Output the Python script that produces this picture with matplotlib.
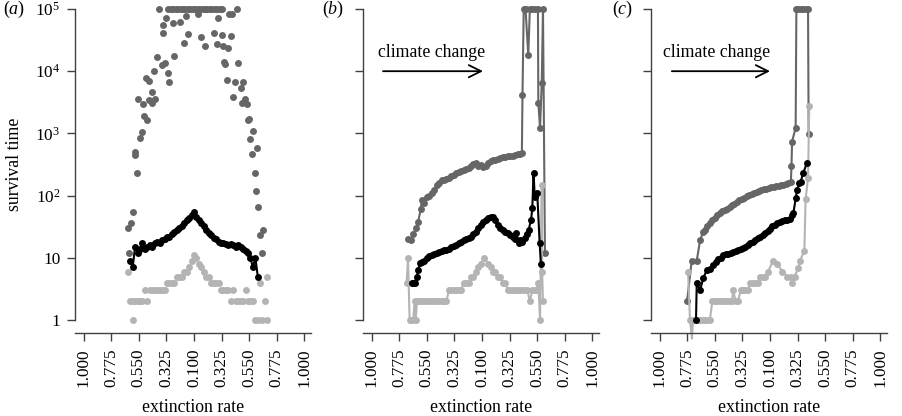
import numpy as np
import matplotlib.pyplot as plt
from matplotlib.ticker import NullLocator

plt.rcParams['font.family'] = 'Liberation Serif'
plt.rcParams['mathtext.fontset'] = 'custom'
plt.rcParams['mathtext.rm'] = 'Liberation Serif'
plt.rcParams['mathtext.it'] = 'Liberation Serif:italic'

# x positions: 0 is the lowest extinction rate (0.100), left/right go back up to 1.000
tick_pos = [-0.9, -0.675, -0.45, -0.225, 0.0, 0.225, 0.45, 0.675, 0.9]
tick_labels = ['1.000', '0.775', '0.550', '0.325', '0.100', '0.325', '0.550', '0.775', '1.000']
y_ticks = [1, 10, 100, 1000, 10000, 100000]
y_labels = ['1', '10', '$10^2$', '$10^3$', '$10^4$', '$10^5$']
cap = 100000

# panel (a)
a_x = np.linspace(-0.52, 0.52, 53)
a_black = [9, 7, 15, 12, 14, 17, 14, 15, 16, 15, 17, 18, 17, 19, 20, 22, 22, 24, 26, 28,
           30, 33, 36, 40, 44, 48, 55, 45, 40, 36, 32, 28, 25, 23, 21, 20, 18, 17, 17, 16.5,
           16, 16.5, 16, 15, 16, 15, 14, 13, 12, 10, 7, 10, 5]
a_light = [2, 2, 2, 2, 2, 2, 3, 2, 3, 3, 3, 3, 3, 3, 3, 4, 4, 4, 4, 5,
           5, 5, 6, 6, 7, 9, 11, 10, 8, 7, 6, 5, 5, 4, 4, 4, 4, 3, 3, 3,
           3, 2, 3, 2, 2, 2, 2, 3, 2, 2, 2, 1, 1]
a_light_extra_x = [-0.540, -0.495, 0.538, 0.552, 0.579, 0.592, 0.592]
a_light_extra = [6, 1, 4, 1, 2, 1, 5]
a_dark_x = [-0.540, -0.530, -0.513, -0.495, -0.481, -0.477, -0.467, -0.456, -0.440, -0.426,
            -0.418, -0.407, -0.394, -0.385, -0.367, -0.363, -0.345, -0.342, -0.326, -0.318,
            -0.304, -0.285, -0.263, -0.255, -0.253, -0.236, -0.228, -0.214, -0.204, -0.171,
            -0.163, -0.114, -0.081, -0.068, -0.049, 0.030, 0.055, 0.090, 0.163, 0.187,
            0.196, 0.226, 0.234, 0.244, 0.249, 0.267, 0.277, 0.285, 0.302, 0.310,
            0.318, 0.334, 0.348, 0.356, 0.381, 0.391, 0.399, 0.416, 0.430, 0.440,
            0.448, 0.456, 0.475, 0.481, 0.497, 0.505, 0.511, 0.524, 0.538, 0.552, 0.562]
a_dark = [30, 12, 36, 54, 450, 500, 230, 3550, 850, 1070,
          2950, 1900, 7700, 1650, 6900, 3450, 3100, 4700, 10000, 3550,
          17000, 100000, 12600, 40700, 55000, 13500, 70800, 9300, 6800, 60000,
          17400, 61700, 28000, 77600, 40000, 83000, 35500, 25000, 40700, 27000,
          70800, 38000, 25000, 14100, 13200, 7200, 23400, 83000, 37000, 83000,
          3900, 6800, 100000, 13500, 5400, 3100, 6800, 3550, 2950, 1650,
          1700, 810, 470, 1100, 235, 120, 575, 66, 23, 12, 28]
a_dark_cap_x = [-0.21, -0.19, -0.17, -0.15, -0.13, -0.11, -0.09, -0.07, -0.05, -0.03, -0.01,
                0.01, 0.03, 0.05, 0.07, 0.09, 0.11, 0.13, 0.15, 0.17, 0.19, 0.21, 0.23]

# panel (b)
b_dark_x = [-0.603, -0.58, -0.56, -0.54, -0.52, -0.50, -0.49, -0.47, -0.45, -0.43,
            -0.41, -0.39, -0.37, -0.35, -0.33, -0.31, -0.29, -0.27, -0.25, -0.23,
            -0.21, -0.19, -0.17, -0.15, -0.13, -0.11, -0.09, -0.07, -0.05, -0.03,
            -0.01, 0.01, 0.03, 0.05, 0.07, 0.09, 0.11, 0.13, 0.15, 0.17,
            0.19, 0.21, 0.23, 0.25, 0.27, 0.29, 0.31, 0.325, 0.33, 0.34,
            0.355, 0.377, 0.39, 0.41, 0.43, 0.456, 0.459, 0.473, 0.487, 0.497, 0.513]
b_dark = [20, 19, 24, 30, 38, 60, 85, 75, 95, 100,
          110, 125, 148, 160, 175, 178, 185, 195, 210, 215,
          228, 240, 245, 255, 270, 280, 300, 320, 330, 300,
          310, 290, 300, 330, 360, 370, 380, 390, 400, 410,
          420, 430, 440, 440, 450, 460, 470, 490, 4170, 100000,
          100000, 18000, 100000, 100000, 100000, 100000, 3100, 1230, 6500, 100000, 12]
b_black_x = [-0.573, -0.562, -0.546, -0.532, -0.52, -0.505, -0.489, -0.47, -0.45, -0.43,
             -0.41, -0.39, -0.37, -0.35, -0.33, -0.31, -0.29, -0.27, -0.25, -0.23,
             -0.21, -0.19, -0.17, -0.15, -0.13, -0.11, -0.09, -0.07, -0.05, -0.03,
             -0.01, 0.01, 0.03, 0.05, 0.07, 0.09, 0.11, 0.13, 0.15, 0.17,
             0.19, 0.21, 0.23, 0.25, 0.27, 0.28, 0.30, 0.31, 0.33, 0.35,
             0.37, 0.38, 0.40, 0.41, 0.42, 0.43, 0.45, 0.47, 0.48]
b_black = [3.9, 4, 4, 5, 6.3, 8.2, 8.5, 9, 10, 10.5,
           11, 11.5, 12, 12.5, 13, 13.4, 13.5, 14, 15, 15.5,
           16, 17, 18, 19, 20, 21, 22, 24, 26, 30,
           34, 38, 41, 44, 46, 45, 40, 34, 30, 28,
           26, 25, 23, 22, 20, 25, 17, 19, 18, 21,
           24, 28, 41, 63, 234, 95, 112, 17, 8]
b_light_x = [-0.614, -0.603, -0.59, -0.575, -0.56, -0.55, -0.54, -0.53, -0.51, -0.49,
             -0.47, -0.45, -0.43, -0.41, -0.39, -0.37, -0.35, -0.33, -0.31, -0.29,
             -0.27, -0.25, -0.23, -0.21, -0.19, -0.17, -0.15, -0.13, -0.11, -0.09,
             -0.07, -0.05, -0.03, -0.01, 0.02, 0.05, 0.07, 0.09, 0.11, 0.13,
             0.15, 0.17, 0.19, 0.21, 0.23, 0.25, 0.27, 0.29, 0.31, 0.33,
             0.35, 0.37, 0.39, 0.41, 0.43, 0.44, 0.459, 0.473, 0.487, 0.49, 0.497]
b_light = [4, 10, 1, 1, 1, 2, 1, 2, 2, 2,
           2, 2, 2, 2, 2, 2, 2, 2, 2, 2,
           3, 3, 3, 3, 3, 3, 4, 4, 4, 5,
           5, 6, 7, 8, 10, 8, 7, 6, 6, 5,
           5, 4, 4, 3, 3, 3, 3, 3, 3, 3,
           3, 3, 2, 3, 3, 3, 4, 1, 148, 6, 2]

# panel (c)
c_dark_x = [-0.676, -0.638, -0.597, -0.57, -0.546, -0.53, -0.51, -0.49, -0.47, -0.45,
            -0.43, -0.41, -0.39, -0.37, -0.35, -0.33, -0.31, -0.29, -0.27, -0.25,
            -0.23, -0.21, -0.19, -0.17, -0.15, -0.13, -0.11, -0.09, -0.07, -0.05,
            -0.03, -0.01, 0.01, 0.03, 0.05, 0.07, 0.09, 0.11, 0.13, 0.15,
            0.17, 0.175, 0.18, 0.209, 0.215, 0.23, 0.25, 0.27, 0.29, 0.31, 0.315]
c_dark = [2, 9, 9, 19, 26, 28, 32, 36, 40, 44,
          48, 52, 56, 58, 62, 66, 70, 74, 78, 84,
          88, 92, 98, 102, 108, 110, 115, 118, 122, 126,
          128, 132, 135, 138, 142, 145, 148, 150, 155, 160,
          165, 300, 740, 1230, 100000, 100000, 100000, 100000, 100000, 100000, 980]
c_black_x = [-0.603, -0.597, -0.57, -0.544, -0.516, -0.489, -0.462, -0.44, -0.42, -0.40,
             -0.38, -0.36, -0.34, -0.32, -0.30, -0.28, -0.26, -0.24, -0.22, -0.20,
             -0.18, -0.16, -0.14, -0.12, -0.10, -0.08, -0.06, -0.04, -0.02, 0.00,
             0.02, 0.04, 0.06, 0.08, 0.10, 0.12, 0.14, 0.16, 0.18, 0.19,
             0.21, 0.22, 0.24, 0.25, 0.27, 0.30]
c_black = [1, 4, 3, 4.7, 6.3, 6.5, 7.6, 8.5, 9.5, 10,
           11, 11.5, 11.5, 12, 12.6, 13, 13.5, 14, 14.2, 15,
           16, 17.5, 18, 19, 20.5, 22, 23, 25, 27, 29,
           32, 34, 36, 38, 39, 40, 41, 42, 48, 52,
           91, 123, 158, 167, 229, 331]
c_light_x = [-0.668, -0.652, -0.636, -0.628, -0.61, -0.59, -0.57, -0.55, -0.53, -0.51,
             -0.49, -0.47, -0.45, -0.43, -0.41, -0.39, -0.37, -0.35, -0.33, -0.31,
             -0.30, -0.28, -0.26, -0.24, -0.22, -0.20, -0.18, -0.16, -0.14, -0.12,
             -0.10, -0.08, -0.06, -0.04, -0.015, 0.025, 0.06, 0.10, 0.14, 0.17,
             0.18, 0.20, 0.23, 0.245, 0.28, 0.29, 0.31, 0.32]
c_light = [6, 1, 0.5, 1, 1, 1, 1, 1, 1, 1,
           1, 2, 2, 2, 2, 2, 2, 2, 2, 2,
           3, 2, 2, 3, 3, 3, 3, 4, 4, 4,
           4, 5, 5, 5, 6, 9, 8, 6, 5, 5,
           4, 5, 6.8, 9, 13, 87, 190, 2750]

DARK = '#666666'
LIGHT = '#b4b4b4'
AXIS = '#404040'
W, H = 902, 416
MS = 5
LW = 1.5

fig = plt.figure(figsize=(W / 100, H / 100), dpi=100)
axes = []
for left in [75, 363, 651]:
    ax = fig.add_axes([left / W, (H - 333) / H, 236 / W, 328 / H])
    ax.set_yscale('log')
    ax.set_xlim(-119 / 122.7, 117 / 122.7)
    ax.set_ylim(10 ** (-13 / 62.2), 10 ** (315 / 62.2))
    ax.spines[['top', 'right']].set_visible(False)
    for s in ['left', 'bottom']:
        ax.spines[s].set_color(AXIS)
        ax.spines[s].set_linewidth(1.0)
    ax.spines['left'].set_bounds(1, 1e5)
    ax.set_xticks(tick_pos)
    ax.set_xticklabels(tick_labels, rotation=90)
    ax.set_yticks(y_ticks)
    ax.yaxis.set_minor_locator(NullLocator())
    ax.tick_params(axis='both', direction='out', length=6, width=1.0, color=AXIS,
                   labelsize=12.4)
    ax.tick_params(axis='x', pad=5)
    ax.tick_params(axis='y', pad=4.5)
    ax.set_xlabel('extinction rate', fontsize=12.8, labelpad=8.5)
    axes.append(ax)

ax_a, ax_b, ax_c = axes
ax_a.set_yticklabels(y_labels)
ax_b.set_yticklabels([])
ax_c.set_yticklabels([])

# (a) scatter of survival times plus the mean line
ax_a.plot(a_dark_x, a_dark, 'o', color=DARK, ms=MS, mew=0, clip_on=False)
ax_a.plot(a_dark_cap_x, [cap] * len(a_dark_cap_x), 'o', color=DARK, ms=MS, mew=0, clip_on=False)
ax_a.plot(a_x, a_light, 'o', color=LIGHT, ms=MS, mew=0, clip_on=False)
ax_a.plot(a_light_extra_x, a_light_extra, 'o', color=LIGHT, ms=MS, mew=0, clip_on=False)
ax_a.plot(a_x, a_black, '-o', color='black', ms=MS, mew=0, lw=LW, clip_on=False)

# (b) and (c) climate change runs
for ax, dx, dy, lx, ly, bx, by in [(ax_b, b_dark_x, b_dark, b_light_x, b_light, b_black_x, b_black),
                                   (ax_c, c_dark_x, c_dark, c_light_x, c_light, c_black_x, c_black)]:
    ax.plot(dx, dy, '-o', color=DARK, ms=MS, mew=0, lw=LW, clip_on=False)
    marks = [i for i, v in enumerate(ly) if v >= 1]
    ax.plot(lx, ly, '-o', color=LIGHT, ms=MS, mew=0, lw=LW, clip_on=False, markevery=marks)
    ax.plot(bx, by, '-o', color='black', ms=MS, mew=0, lw=LW, clip_on=False)

for ax, x0, x1, tx in [(ax_b, -0.807, 0.008, -0.848), (ax_c, -0.80, 0.0, -0.872)]:
    ax.annotate('', xy=(x1, 1e4), xytext=(x0, 1e4),
                arrowprops=dict(arrowstyle='->', color='black', lw=1.3,
                                mutation_scale=22, shrinkA=0, shrinkB=0))
    ax.text(tx, 10 ** 4.233, 'climate change', fontsize=12.8, ha='left', va='baseline')

fig.text(15 / W, 1 - 164.5 / H, 'survival time', rotation=90, ha='center', va='center',
         fontsize=12.8)
for x, letter in [(3, 'a'), (322, 'b'), (612, 'c')]:
    fig.text(x / W, 1 - 9 / H, '($' + letter + '$)', ha='left', va='center', fontsize=13)

fig.savefig('out.png', dpi=100)
